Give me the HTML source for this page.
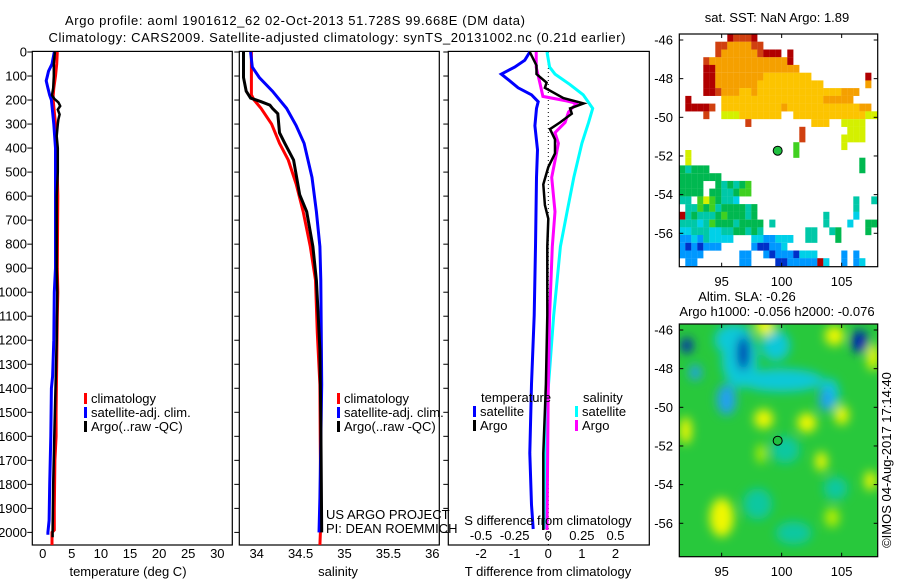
<!DOCTYPE html>
<html><head><meta charset="utf-8"><style>
html,body{margin:0;padding:0;background:#fff;}
svg{display:block;font-family:"Liberation Sans",Arial,sans-serif;font-size:13px;}
</style></head><body>
<svg id="fig" width="900" height="580" viewBox="0 0 900 580" xmlns="http://www.w3.org/2000/svg">
<defs>
<filter id="blur" x="-50%" y="-50%" width="200%" height="200%"><feGaussianBlur stdDeviation="5"/></filter>
<clipPath id="clip1"><rect x="32" y="51" width="200" height="494"/></clipPath>
<clipPath id="clip2"><rect x="239" y="51" width="200" height="494"/></clipPath>
<clipPath id="clip3"><rect x="448" y="51" width="201" height="494"/></clipPath>
<clipPath id="clipM2"><rect x="679" y="324" width="199" height="233"/></clipPath>
</defs>
<text x="295" y="25" text-anchor="middle" textLength="460">Argo profile: aoml 1901612_62 02-Oct-2013 51.728S 99.668E (DM data)</text>
<text x="337" y="42" text-anchor="middle" textLength="577">Climatology: CARS2009. Satellite-adjusted climatology: synTS_20131002.nc (0.21d earlier)</text>
<g id="p1"></g>
<g id="p2"></g>
<g id="p3"></g>
<g id="m1"></g>
<g id="m2"></g>
<text transform="translate(891,460) rotate(-90)" text-anchor="middle">©IMOS 04-Aug-2017 17:14:40</text>
</svg>
<script>
// ---- temperature profile data (depth m, deg C)
const climTDepth=[0,50,100,150,180,200,250,300,400,600,900,1000,1100,1300,1500,1600,1700,1900,1990,2000,2055];
const climT=[2.5,2.4,2.2,1.9,1.8,1.8,2.0,2.2,2.4,2.6,2.5,2.6,2.5,2.4,2.3,2.3,2.1,2.0,2.0,1.6,1.6];
const satTDepth=[0,50,80,100,120,150,180,200,250,300,400,900,1000,1200,1350,1400,1600,1800,1950,2000,2010];
const satT=[2.0,1.6,1.0,0.8,0.6,0.9,1.2,1.5,1.7,1.9,2.2,2.2,2.0,1.9,1.7,1.5,1.4,1.2,1.1,0.9,0.9];
const argoTDepth=[0,50,100,150,180,195,210,225,240,260,280,300,350,400,500,600,900,1000,1200,1400,1600,1800,2000,2020];
const argoT=[2.1,1.9,1.9,1.8,1.6,2.0,2.7,3.0,2.6,2.9,2.7,2.6,2.4,2.6,2.6,2.4,2.4,2.5,2.4,2.2,2.0,1.8,1.7,1.7];
// ---- salinity profile data
const climSDepth=[0,178,200,235,300,380,450,550,665,810,950,1170,1385,1957,2053];
const climS=[33.94,33.94,33.97,34.05,34.17,34.26,34.36,34.45,34.53,34.61,34.67,34.69,34.72,34.73,34.72];
const satSDepth=[0,63,106,163,235,307,380,522,665,810,950,1385,1856,2000];
const satS=[33.93,33.95,34.03,34.18,34.34,34.45,34.54,34.63,34.68,34.72,34.73,34.74,34.72,34.71];
const argoSDepth=[0,106,163,192,207,221,235,257,336,380,450,594,665,810,950,1096,1240,1526,2000];
const argoS=[33.85,33.85,33.88,33.93,34.05,34.15,34.18,34.24,34.26,34.32,34.42,34.49,34.57,34.64,34.68,34.70,34.72,34.73,34.74];
// ---- difference data
const dTsatDepth=[0,34,63,92,120,149,178,207,235,307,407,522,810,1096,1383,1670,1885,1986];
const dTsat=[-0.55,-0.7,-1.0,-1.4,-1.15,-0.9,-0.5,-0.3,-0.35,-0.4,-0.32,-0.35,-0.38,-0.42,-0.5,-0.55,-0.5,-0.45];
const dTargoDepth=[0,56,92,128,149,192,214,235,257,293,321,364,422,479,551,637,694,810,1096,1383,1670,1856,1990];
const dTargo=[-0.55,-0.35,-0.35,-0.05,-0.1,0.45,1.05,0.65,0.7,0.35,0.05,0.2,0.2,0.0,-0.15,-0.1,0.0,-0.03,-0.03,-0.07,-0.15,-0.15,-0.15];
const dSsatDepth=[0,63,92,135,178,235,293,380,522,665,810,1096,1326,1540,1827,1986];
const dSsat=[-0.01,0.01,0.05,0.16,0.26,0.33,0.30,0.25,0.19,0.14,0.09,0.04,0.01,-0.02,-0.02,-0.025];
const dSargoDepth=[0,63,135,185,204,214,250,293,336,380,522,665,810,1096,1383,1990];
const dSargo=[-0.09,-0.09,-0.06,-0.04,0.14,0.21,0.15,0.125,0.05,0.075,0.025,0.05,0.03,0.01,0.0,-0.01];
// ---- tick labels
const depthTicks=[0,100,200,300,400,500,600,700,800,900,1000,1100,1200,1300,1400,1500,1600,1700,1800,1900,2000];
const tempTicks=[0,5,10,15,20,25,30];
const salTicks=[34,34.5,35,35.5,36];
const tdiffTicks=[-2,-1,0,1,2];
const sdiffTicks=[-0.5,-0.25,0,0.25,0.5];
const lonTicks=[95,100,105];
const latTicks=[-46,-48,-50,-52,-54,-56];
// ---- SST map cells (0.5 deg lon x 0.4 deg lat, from 91.47E, -45.69N)
const sstRows=[
"........rooor....................",
"......ooOOOOoo...................",
"......oOOOOOOorrr.r..............",
"....oOOOOOOOOOOOOOr..............",
"....rrOOOOOOOOOOOOOO.............",
"....rrOOOOOOOOyyyyyyyy.........r.",
"....rrOOOOOOOyyyyyyyyyyy.......O.",
"....rroOOOyyOyyyyyyyyyyyyyyOOO...",
".r.....yyyyyyyyyyyyyyyyyOOOOO....",
".rrrro.yyyyyyyyyyOyyyyyyyyyyyyOO.",
"....o..YYYyyyyyyy..yyyyyyyyyyyyYY",
"...........o..........yyy..YYYY..",
"....................o.......YYY..",
"....................o......YYYY..",
"...................g.......Y.....",
".Y.................g.............",
".Y............................G..",
"GcGGG.........................G..",
"GGGGGGG..........................",
"GGGG..GcGcGg.....................",
"GGGG.GGccGgg.....................",
"cc.gYgGccC...................c..c",
".ccgGgcGGGGcG................c...",
"rcGcccGgGGGcG...........c....C...",
"cccCcgGGGcGGGG.c........c...C..GG",
"CCcccCCccGGcGc.......cc..cG....G.",
"bbCbcCCCC...CCbbCCC..cc...G......",
"bBbBbbb.....bBBbbC...............",
"bbbb......bb..bBbbbBCCC....b.b...",
".bb.......bb....BBbbbbbrC..b.bC.."];
// ---- SLA map features (lon, lat, anomaly, extent deg)
const slaLon=[96.5,100,104,96,99.5,103.7,95.4,92.8,92.1,96.8,106.5,98.6,104.4,107.6,98.5,102.1,105,92,95,103.3,107.4,104.2,98.3,100.3,98,101,104.5];
const slaLat=[-47.5,-48.6,-49.3,-46.5,-46.8,-49.6,-49.6,-48.2,-46.8,-47.2,-46.6,-45.8,-46.3,-47.4,-50.6,-50.8,-50.4,-51.2,-55.7,-52.8,-53.8,-55.7,-52.4,-52.2,-55,-56.5,-54.2];
const slaVal=[-0.3,-0.3,-0.3,-0.25,-0.25,-0.4,-0.45,-0.4,-0.7,-0.8,-0.8,0.3,0.3,0.3,0.3,0.3,0.3,0.3,0.35,0.3,0.3,0.25,0.25,-0.2,-0.2,-0.2,-0.2];
const slaW=[1.5,3.5,0.8,1.6,1.2,0.6,0.8,0.5,0.5,0.5,0.7,0.8,0.8,0.5,0.8,0.8,0.6,0.5,1.0,0.5,0.5,0.6,0.4,1.2,1.2,1.5,1.0];
const slaH=[1.5,0.6,0.8,0.8,0.8,0.6,0.8,0.4,0.4,0.9,0.6,0.5,0.5,0.7,0.5,0.5,0.5,0.7,1.0,0.5,0.5,0.5,0.5,0.7,0.8,0.6,0.6];
const argoLon=99.668, argoLat=-51.728;

const NS="http://www.w3.org/2000/svg";
function mk(parent,tag,attrs,text){const e=document.createElementNS(NS,tag);for(const k in attrs)e.setAttribute(k,attrs[k]);if(text!==undefined)e.textContent=text;parent.appendChild(e);return e;}
const yD=d=>52+d*0.2402;
const xT=t=>42.7+t*5.82;
const xS=s=>256.7+(s-34)*87.8;
const xDT=t=>548.3+t*33.6;
const xDS=s=>548.3+s*134.4;
function line(g,xs,ds,fx,color,w,clip,name){
  const pts=xs.map((v,i)=>fx(v).toFixed(1)+','+yD(ds[i]).toFixed(1)).join(' ');
  const p=mk(g,'polyline',{points:pts,fill:'none',stroke:color,'stroke-width':w,'clip-path':'url(#'+clip+')'});
  
  
}
function frame(g,x0,x1,name){
  const r=mk(g,'rect',{x:x0,y:51.4,width:x1-x0,height:545-51.4,fill:'none',stroke:'#000','stroke-width':1.2});
  
  
  depthTicks.forEach(d=>{mk(g,'line',{x1:x0-5,x2:x0,y1:yD(d),y2:yD(d),stroke:'#000'});});
}
function legendItem(g,x,y,color,label,name){
  mk(g,'rect',{x:x,y:y-10,width:3,height:11,fill:color});
  const t=mk(g,'text',{x:x+7,y:y},label);
  
  
}
// Panel 1
const p1=document.getElementById('p1');
frame(p1,32.3,232.3,'temperature-axes');
depthTicks.forEach(d=>{const t=mk(p1,'text',{x:27,y:yD(d)+4.5,'text-anchor':'end'},String(d));});
tempTicks.forEach(v=>{const t=mk(p1,'text',{x:xT(v),y:558,'text-anchor':'middle'},String(v));});
{const t=mk(p1,'text',{x:128,y:576,'text-anchor':'middle'},'temperature (deg C)');}
line(p1,climT,climTDepth,xT,'#ff0000',3,'clip1','climatology-temperature-line');
line(p1,satT,satTDepth,xT,'#0000ff',3,'clip1','satellite-temperature-line');
line(p1,argoT,argoTDepth,xT,'#000000',2.5,'clip1','argo-temperature-line');
legendItem(p1,84,403,'#ff0000','climatology','legend-climatology');
legendItem(p1,84,417,'#0000ff','satellite-adj. clim.','legend-satellite-adj');
legendItem(p1,84,431,'#000000','Argo(..raw -QC)','legend-argo');
// Panel 2
const p2=document.getElementById('p2');
frame(p2,239.3,439.3,'salinity-axes');
salTicks.forEach(v=>{const t=mk(p2,'text',{x:xS(v),y:558,'text-anchor':'middle'},String(v));});
{const t=mk(p2,'text',{x:338,y:576,'text-anchor':'middle'},'salinity');}
line(p2,climS,climSDepth,xS,'#ff0000',3,'clip2','climatology-salinity-line');
line(p2,satS,satSDepth,xS,'#0000ff',3,'clip2','satellite-salinity-line');
line(p2,argoS,argoSDepth,xS,'#000000',3,'clip2','argo-salinity-line');
legendItem(p2,337,403,'#ff0000','climatology','legend-climatology-2');
legendItem(p2,337,417,'#0000ff','satellite-adj. clim.','legend-satellite-adj-2');
legendItem(p2,337,431,'#000000','Argo(..raw -QC)','legend-argo-2');
{const t=mk(p2,'text',{x:326,y:519},'US ARGO PROJECT');}
{const t=mk(p2,'text',{x:326,y:533},'PI: DEAN ROEMMICH');}
// Panel 3
const p3=document.getElementById('p3');
frame(p3,448.3,649.3,'difference-axes');
mk(p3,'line',{x1:xDT(0),x2:xDT(0),y1:52,y2:545,stroke:'#000','stroke-dasharray':'1,3','stroke-width':1});
line(p3,dTsat,dTsatDepth,xDT,'#0000ff',3,'clip3','satellite-temperature-diff-line');
line(p3,dSsat,dSsatDepth,xDS,'#00ffff',3,'clip3','satellite-salinity-diff-line');
line(p3,dSargo,dSargoDepth,xDS,'#ff00ff',3,'clip3','argo-salinity-diff-line');
line(p3,dTargo,dTargoDepth,xDT,'#000000',2.5,'clip3','argo-temperature-diff-line');
tdiffTicks.forEach(v=>{const t=mk(p3,'text',{x:xDT(v),y:558,'text-anchor':'middle'},String(v));});
sdiffTicks.forEach(v=>{const t=mk(p3,'text',{x:xDS(v),y:540,'text-anchor':'middle'},String(v));});
{const t=mk(p3,'text',{x:548,y:576,'text-anchor':'middle'},'T difference from climatology');}
{const t=mk(p3,'text',{x:548,y:525,'text-anchor':'middle'},'S difference from climatology');}
{const t=mk(p3,'text',{x:481,y:402},'temperature');}
{const t=mk(p3,'text',{x:583,y:402},'salinity');}
legendItem(p3,473,416,'#0000ff','satellite','legend-t-satellite');
legendItem(p3,473,430,'#000000','Argo','legend-t-argo');
legendItem(p3,575,416,'#00ffff','satellite','legend-s-satellite');
legendItem(p3,575,430,'#ff00ff','Argo','legend-s-argo');
// Maps
const mx=lon=>679.3+(lon-91.47)*12;
const my=(lat,top)=>top+(-45.69-lat)*19.33;
function mapFrame(g,top,name){
  const r=mk(g,'rect',{x:679.3,y:top,width:198.4,height:232.7,fill:'none',stroke:'#000','stroke-width':1.2});
  
  
  lonTicks.forEach(l=>{mk(g,'line',{x1:mx(l),x2:mx(l),y1:top,y2:top+4,stroke:'#000'});mk(g,'line',{x1:mx(l),x2:mx(l),y1:top+232.7,y2:top+228.7,stroke:'#000'});
    const t=mk(g,'text',{x:mx(l),y:top+252,'text-anchor':'middle'},String(l));});
  latTicks.forEach(l=>{mk(g,'line',{x1:679.3,x2:683.3,y1:my(l,top),y2:my(l,top),stroke:'#000'});mk(g,'line',{x1:877.7,x2:873.7,y1:my(l,top),y2:my(l,top),stroke:'#000'});
    const t=mk(g,'text',{x:673,y:my(l,top)+4.5,'text-anchor':'end'},String(l));});
  const c=mk(g,'circle',{cx:mx(argoLon),cy:my(argoLat,top),r:4.5,fill:'#20c040',stroke:'#000','stroke-width':1});
  
  
}
const sstColor={r:'#b00000',o:'#d04010',O:'#f5a000',y:'#fcc400',Y:'#d4f000',g:'#40d020',G:'#00b850',c:'#00c8a8',C:'#00d0e8',b:'#0098ff',B:'#0030c8'};
const m1=document.getElementById('m1');
sstRows.forEach((row,ri)=>{[...row].forEach((ch,ci)=>{if(ch==='.')return;
  const lon=91.47+ci*0.5, lat=-45.69-ri*0.4;
  const r=mk(m1,'rect',{x:mx(lon).toFixed(1),y:my(lat,34).toFixed(1),width:6.1,height:7.85,fill:sstColor[ch]});
  
  
});});
mapFrame(m1,34,'sst-map-axes');
{const t=mk(m1,'text',{x:777,y:22,'text-anchor':'middle'},'sat. SST: NaN Argo: 1.89');}
const m2=document.getElementById('m2');
const bg=mk(m2,'rect',{x:679.3,y:324,width:198.4,height:232.7,fill:'#28c83c'});


const fg=mk(m2,'g',{'clip-path':'url(#clipM2)'});
const fb=mk(fg,'g',{filter:'url(#blur)'});
function slaColor(v){if(v<=-0.6)return '#0028b0';if(v<=-0.35)return '#20a0f0';if(v<=-0.22)return '#10c8d8';if(v<0)return '#10c8a0';if(v<0.27)return '#b8f000';return '#f0f800';}
slaLon.forEach((l,i)=>{const e=mk(fb,'ellipse',{cx:mx(l),cy:my(slaLat[i],324),rx:slaW[i]*12,ry:slaH[i]*19.33,fill:slaColor(slaVal[i])});
  
  });
mapFrame(m2,324,'sla-map-axes');
{const t=mk(m2,'text',{x:747,y:301,'text-anchor':'middle'},'Altim. SLA: -0.26');}
{const t=mk(m2,'text',{x:777,y:316,'text-anchor':'middle'},'Argo h1000: -0.056 h2000: -0.076');}
</script>
</body></html>
